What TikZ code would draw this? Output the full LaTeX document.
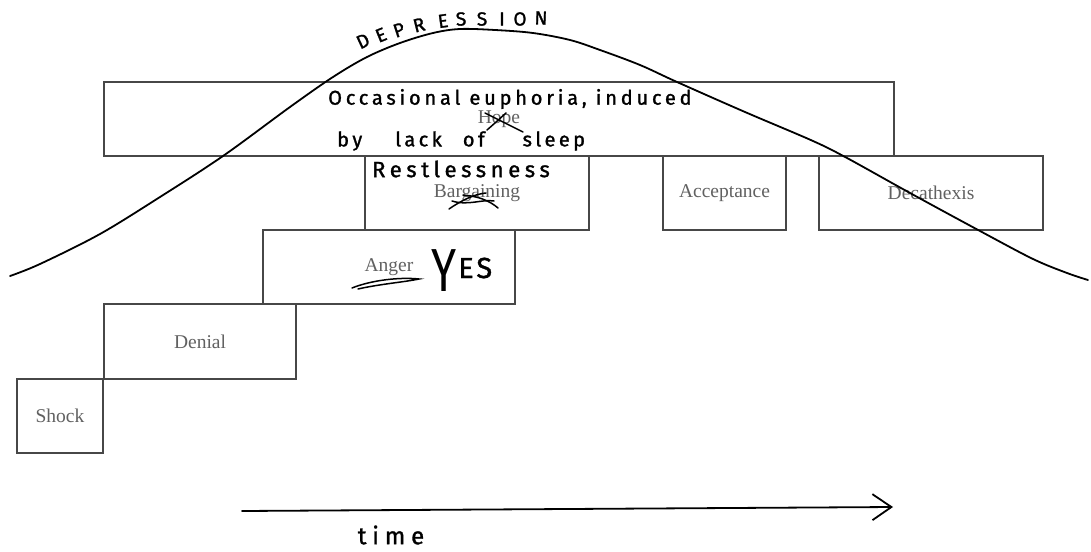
\documentclass[tikz,border=0pt]{standalone}
\usepackage{fontspec}
\usepackage{graphicx}
\setmainfont{Liberation Serif}
\newfontfamily\hand{Fira Sans}[FakeBold=1.3]
\newfontfamily\handthin{Fira Sans}
\usetikzlibrary{arrows.meta}
\begin{document}
\begin{tikzpicture}[x=1pt,y=-1pt,
  stage/.style={draw=black!72, line width=1.1pt, inner sep=0pt,
    font=\fontsize{19.5}{22}\selectfont, text=black!62},
  hw/.style={inner sep=0pt, text=black},
  ink/.style={line width=1.8pt, line cap=round, line join=round, black},
  strikeout/.style={line width=1.5pt, line cap=round, black}
]
\useasboundingbox (0,0) rectangle (1091,551);
\fill[white] (0,0) rectangle (1091,551);

% stage boxes
\node[stage, minimum width=790pt, minimum height=74pt] (hope) at (499,119) {\raisebox{-1pt}{Hope}};
\node[stage, minimum width=224pt, minimum height=74pt] (barg) at (477,193) {\raisebox{-2pt}{Bargaining}};
\node[stage, minimum width=123pt, minimum height=74pt] (acc) at (724.5,193) {\raisebox{-2pt}{Acceptance}};
\node[stage, minimum width=224pt, minimum height=74pt] (dec) at (931,193) {\raisebox{-2pt}{Decathexis}};
\node[stage, minimum width=252pt, minimum height=74pt] (anger) at (389,267) {\raisebox{-1pt}{Anger}};
\node[stage, minimum width=192pt, minimum height=75pt] (denial) at (200,341.5) {Denial};
\node[stage, minimum width=86pt, minimum height=74pt] (shock) at (60,416) {Shock};

% depression curve
\draw[ink] plot[smooth, tension=0.55] coordinates {
  (10,276) (40,264) (100,234) (160,197) (223,156) (290,107) (333,77)
  (367,57) (400,43) (433,33) (460,29) (495,30) (533,33) (570,40)
  (600,50) (640,65) (677,82) (745,112) (813,141) (847,158) (910,193)
  (980,231) (1033,259) (1067,273) (1088,280)};

% DEPRESSION lettering
\foreach \l/\x/\y/\r [count=\i] in {D/363/41/25, E/381/35/22, P/399/30/18,
  R/419/25/14, E/443/21/8, S/461/19/4, S/482/19/2, I/502/19/0,
  O/520/19/0, N/541/18/-2}
  \node[hw, font=\hand\fontsize{19}{19}\selectfont, rotate=\r] (dep\i) at (\x,\y) {\l};

% handwritten notes
\node[hw, anchor=west, font=\hand\fontsize{20}{20}\selectfont\addfontfeature{LetterSpace=19}]
  (note1) at (328,99) {Occasional euphoria, induced};
\node[hw, anchor=west, font=\hand\fontsize{20}{20}\selectfont\addfontfeature{LetterSpace=17}]
  (note2) at (337,141) {by\hspace{33pt}lack\hspace{21pt}of\hspace{38pt}sleep};
\node[hw, font=\hand\fontsize{22}{22}\selectfont\addfontfeature{LetterSpace=21}]
  (note3) at (461,169) {Restlessness};
\node[hw, anchor=base west, font=\hand\fontsize{29}{29}\selectfont\addfontfeature{LetterSpace=10}]
  (yes) at (431,278) {\raisebox{-13pt}{\scalebox{1.2}[1.6]{\handthin\fontsize{38}{38}\selectfont Y}}\hspace{2pt}ES};

% strike-outs
\draw[strikeout] (485,113) -- (523,132);
\draw[strikeout] (487,130) .. controls (495,123) .. (506,113);
\draw[strikeout] (449,209) .. controls (462,200) and (475,194) .. (486,193);
\draw[strikeout] (463,195) .. controls (478,196) and (490,201) .. (498,208);
\draw[strikeout] (452,201) .. controls (468,206) and (482,199) .. (494,201);
\draw[strikeout] (352,288) .. controls (372,280) and (400,277) .. (419,279)
  .. controls (405,282) and (380,284) .. (358,289);

% time axis
\coordinate (t0) at (242,511);
\coordinate (t1) at (893,507);
\draw[ink, -{Straight Barb[length=19pt,width=26pt,line width=1.8pt]}] (t0) -- (t1);
\node[hw, font=\hand\fontsize{24}{24}\selectfont\addfontfeature{LetterSpace=24}]
  (time) at (391,535) {time};
\end{tikzpicture}
\end{document}
